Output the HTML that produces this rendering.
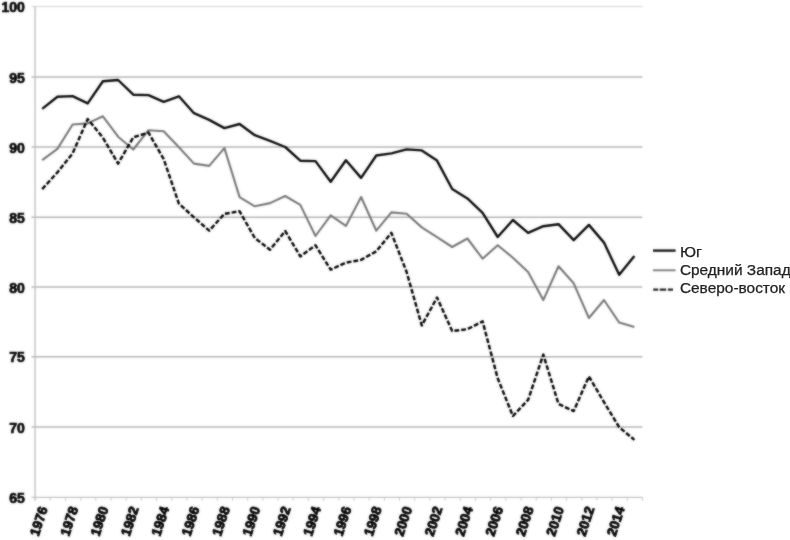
<!DOCTYPE html>
<html lang="ru">
<head>
<meta charset="utf-8">
<title>Chart</title>
<style>
html,body{margin:0;padding:0;background:#fff;}
body{width:790px;height:540px;overflow:hidden;position:relative;font-family:"Liberation Sans",sans-serif;}
#chart{position:absolute;left:0;top:0;width:790px;height:540px;will-change:transform;}
#chart text{font-family:"Liberation Sans",sans-serif;font-weight:bold;font-size:14px;fill:#000;stroke:#000;stroke-width:0.7px;}
#chart #xlabels text{font-size:13.5px;stroke-width:0.85px;}
#legend{position:absolute;left:0;top:0;width:790px;height:540px;will-change:transform;opacity:0.999;}
#legend text{font-family:"Liberation Sans",sans-serif;font-size:14px;fill:#222;stroke:#222;stroke-width:0.25px;}
</style>
</head>
<body>
<svg id="chart" width="790" height="540" viewBox="0 0 790 540">
<defs>
<filter id="soft" filterUnits="userSpaceOnUse" x="0" y="0" width="790" height="540" color-interpolation-filters="sRGB">
<feGaussianBlur in="SourceGraphic" stdDeviation="0.9" result="b"/>
<feComposite in="SourceGraphic" in2="b" operator="arithmetic" k1="0" k2="0.45" k3="0.55" k4="0"/>
</filter>
</defs>
<g filter="url(#soft)">
<g id="grid">
<line x1="31.5" y1="6.6" x2="642.3" y2="6.6" stroke="#dedede" stroke-width="1.5"/>
<line x1="31.5" y1="77.1" x2="642.3" y2="77.1" stroke="#b4b4b4" stroke-width="1.5"/>
<line x1="31.5" y1="147.1" x2="642.3" y2="147.1" stroke="#b4b4b4" stroke-width="1.5"/>
<line x1="31.5" y1="217.3" x2="642.3" y2="217.3" stroke="#b4b4b4" stroke-width="1.5"/>
<line x1="31.5" y1="287.0" x2="642.3" y2="287.0" stroke="#b4b4b4" stroke-width="1.5"/>
<line x1="31.5" y1="356.7" x2="642.3" y2="356.7" stroke="#b4b4b4" stroke-width="1.5"/>
<line x1="31.5" y1="427.0" x2="642.3" y2="427.0" stroke="#b4b4b4" stroke-width="1.5"/>
<line x1="31.5" y1="497.3" x2="642.3" y2="497.3" stroke="#c2c2c2" stroke-width="1.3"/>
<line x1="35.1" y1="6.0" x2="35.1" y2="500.6" stroke="#c4c4c4" stroke-width="1.5"/>
<line x1="35.1" y1="497.3" x2="35.1" y2="500.6" stroke="#c8c8c8" stroke-width="1.0"/>
<line x1="50.3" y1="497.3" x2="50.3" y2="500.6" stroke="#c8c8c8" stroke-width="1.0"/>
<line x1="65.5" y1="497.3" x2="65.5" y2="500.6" stroke="#c8c8c8" stroke-width="1.0"/>
<line x1="80.7" y1="497.3" x2="80.7" y2="500.6" stroke="#c8c8c8" stroke-width="1.0"/>
<line x1="95.8" y1="497.3" x2="95.8" y2="500.6" stroke="#c8c8c8" stroke-width="1.0"/>
<line x1="111.0" y1="497.3" x2="111.0" y2="500.6" stroke="#c8c8c8" stroke-width="1.0"/>
<line x1="126.2" y1="497.3" x2="126.2" y2="500.6" stroke="#c8c8c8" stroke-width="1.0"/>
<line x1="141.4" y1="497.3" x2="141.4" y2="500.6" stroke="#c8c8c8" stroke-width="1.0"/>
<line x1="156.6" y1="497.3" x2="156.6" y2="500.6" stroke="#c8c8c8" stroke-width="1.0"/>
<line x1="171.8" y1="497.3" x2="171.8" y2="500.6" stroke="#c8c8c8" stroke-width="1.0"/>
<line x1="186.9" y1="497.3" x2="186.9" y2="500.6" stroke="#c8c8c8" stroke-width="1.0"/>
<line x1="202.1" y1="497.3" x2="202.1" y2="500.6" stroke="#c8c8c8" stroke-width="1.0"/>
<line x1="217.3" y1="497.3" x2="217.3" y2="500.6" stroke="#c8c8c8" stroke-width="1.0"/>
<line x1="232.5" y1="497.3" x2="232.5" y2="500.6" stroke="#c8c8c8" stroke-width="1.0"/>
<line x1="247.7" y1="497.3" x2="247.7" y2="500.6" stroke="#c8c8c8" stroke-width="1.0"/>
<line x1="262.9" y1="497.3" x2="262.9" y2="500.6" stroke="#c8c8c8" stroke-width="1.0"/>
<line x1="278.1" y1="497.3" x2="278.1" y2="500.6" stroke="#c8c8c8" stroke-width="1.0"/>
<line x1="293.2" y1="497.3" x2="293.2" y2="500.6" stroke="#c8c8c8" stroke-width="1.0"/>
<line x1="308.4" y1="497.3" x2="308.4" y2="500.6" stroke="#c8c8c8" stroke-width="1.0"/>
<line x1="323.6" y1="497.3" x2="323.6" y2="500.6" stroke="#c8c8c8" stroke-width="1.0"/>
<line x1="338.8" y1="497.3" x2="338.8" y2="500.6" stroke="#c8c8c8" stroke-width="1.0"/>
<line x1="354.0" y1="497.3" x2="354.0" y2="500.6" stroke="#c8c8c8" stroke-width="1.0"/>
<line x1="369.2" y1="497.3" x2="369.2" y2="500.6" stroke="#c8c8c8" stroke-width="1.0"/>
<line x1="384.4" y1="497.3" x2="384.4" y2="500.6" stroke="#c8c8c8" stroke-width="1.0"/>
<line x1="399.5" y1="497.3" x2="399.5" y2="500.6" stroke="#c8c8c8" stroke-width="1.0"/>
<line x1="414.7" y1="497.3" x2="414.7" y2="500.6" stroke="#c8c8c8" stroke-width="1.0"/>
<line x1="429.9" y1="497.3" x2="429.9" y2="500.6" stroke="#c8c8c8" stroke-width="1.0"/>
<line x1="445.1" y1="497.3" x2="445.1" y2="500.6" stroke="#c8c8c8" stroke-width="1.0"/>
<line x1="460.3" y1="497.3" x2="460.3" y2="500.6" stroke="#c8c8c8" stroke-width="1.0"/>
<line x1="475.5" y1="497.3" x2="475.5" y2="500.6" stroke="#c8c8c8" stroke-width="1.0"/>
<line x1="490.6" y1="497.3" x2="490.6" y2="500.6" stroke="#c8c8c8" stroke-width="1.0"/>
<line x1="505.8" y1="497.3" x2="505.8" y2="500.6" stroke="#c8c8c8" stroke-width="1.0"/>
<line x1="521.0" y1="497.3" x2="521.0" y2="500.6" stroke="#c8c8c8" stroke-width="1.0"/>
<line x1="536.2" y1="497.3" x2="536.2" y2="500.6" stroke="#c8c8c8" stroke-width="1.0"/>
<line x1="551.4" y1="497.3" x2="551.4" y2="500.6" stroke="#c8c8c8" stroke-width="1.0"/>
<line x1="566.6" y1="497.3" x2="566.6" y2="500.6" stroke="#c8c8c8" stroke-width="1.0"/>
<line x1="581.8" y1="497.3" x2="581.8" y2="500.6" stroke="#c8c8c8" stroke-width="1.0"/>
<line x1="596.9" y1="497.3" x2="596.9" y2="500.6" stroke="#c8c8c8" stroke-width="1.0"/>
<line x1="612.1" y1="497.3" x2="612.1" y2="500.6" stroke="#c8c8c8" stroke-width="1.0"/>
<line x1="627.3" y1="497.3" x2="627.3" y2="500.6" stroke="#c8c8c8" stroke-width="1.0"/>
<line x1="642.5" y1="497.3" x2="642.5" y2="500.6" stroke="#c8c8c8" stroke-width="1.0"/>
</g>
<g id="ylabels">
<text x="24.9" y="12.2" text-anchor="end">100</text>
<text x="24.9" y="82.7" text-anchor="end">95</text>
<text x="24.9" y="152.7" text-anchor="end">90</text>
<text x="24.9" y="222.9" text-anchor="end">85</text>
<text x="24.9" y="292.6" text-anchor="end">80</text>
<text x="24.9" y="362.3" text-anchor="end">75</text>
<text x="24.9" y="432.6" text-anchor="end">70</text>
<text x="24.9" y="502.9" text-anchor="end">65</text>
</g>
<g id="xlabels">
<text transform="translate(47.8,508.4) rotate(-72)" text-anchor="end" font-size="13.5">1976</text>
<text transform="translate(78.2,508.4) rotate(-72)" text-anchor="end" font-size="13.5">1978</text>
<text transform="translate(108.5,508.4) rotate(-72)" text-anchor="end" font-size="13.5">1980</text>
<text transform="translate(138.9,508.4) rotate(-72)" text-anchor="end" font-size="13.5">1982</text>
<text transform="translate(169.3,508.4) rotate(-72)" text-anchor="end" font-size="13.5">1984</text>
<text transform="translate(199.6,508.4) rotate(-72)" text-anchor="end" font-size="13.5">1986</text>
<text transform="translate(230.0,508.4) rotate(-72)" text-anchor="end" font-size="13.5">1988</text>
<text transform="translate(260.4,508.4) rotate(-72)" text-anchor="end" font-size="13.5">1990</text>
<text transform="translate(290.8,508.4) rotate(-72)" text-anchor="end" font-size="13.5">1992</text>
<text transform="translate(321.1,508.4) rotate(-72)" text-anchor="end" font-size="13.5">1994</text>
<text transform="translate(351.5,508.4) rotate(-72)" text-anchor="end" font-size="13.5">1996</text>
<text transform="translate(381.9,508.4) rotate(-72)" text-anchor="end" font-size="13.5">1998</text>
<text transform="translate(412.2,508.4) rotate(-72)" text-anchor="end" font-size="13.5">2000</text>
<text transform="translate(442.6,508.4) rotate(-72)" text-anchor="end" font-size="13.5">2002</text>
<text transform="translate(473.0,508.4) rotate(-72)" text-anchor="end" font-size="13.5">2004</text>
<text transform="translate(503.3,508.4) rotate(-72)" text-anchor="end" font-size="13.5">2006</text>
<text transform="translate(533.7,508.4) rotate(-72)" text-anchor="end" font-size="13.5">2008</text>
<text transform="translate(564.1,508.4) rotate(-72)" text-anchor="end" font-size="13.5">2010</text>
<text transform="translate(594.5,508.4) rotate(-72)" text-anchor="end" font-size="13.5">2012</text>
<text transform="translate(624.8,508.4) rotate(-72)" text-anchor="end" font-size="13.5">2014</text>
</g>
<polyline fill="none" stroke="#787878" stroke-width="2.1" stroke-linejoin="round" points="42.2,160.1 57.4,148.9 72.6,124.5 87.7,123.4 102.9,116.3 118.1,136.7 133.3,149.5 148.5,130.2 163.7,131.2 178.9,147.3 194.0,163.6 209.2,165.9 224.4,148.1 239.6,197.1 254.8,206.3 270.0,203.1 285.2,196.0 300.3,204.9 315.5,236.0 330.7,215.3 345.9,225.9 361.1,197.0 376.3,230.7 391.4,212.4 406.6,213.7 421.8,227.4 437.0,237.2 452.2,247.0 467.4,238.5 482.6,258.7 497.7,245.2 512.9,257.7 528.1,272.0 543.3,300.1 558.5,266.3 573.7,283.3 588.9,318.0 604.0,300.0 619.2,322.6 634.4,327.1"/>
<polyline fill="none" stroke="#000" stroke-width="2.45" stroke-linejoin="round" stroke-dasharray="4.8 2.0" points="42.2,189.1 57.4,172.4 72.6,153.4 87.7,119.0 102.9,137.7 118.1,163.6 133.3,137.3 148.5,132.6 163.7,159.1 178.9,203.7 194.0,217.3 209.2,230.7 224.4,213.8 239.6,211.3 254.8,238.0 270.0,249.7 285.2,231.0 300.3,256.4 315.5,245.3 330.7,269.7 345.9,262.6 361.1,259.9 376.3,251.3 391.4,232.9 406.6,272.0 421.8,325.5 437.0,297.5 452.2,331.0 467.4,329.2 482.6,321.4 497.7,378.3 512.9,416.0 528.1,399.9 543.3,354.6 558.5,404.0 573.7,411.1 588.9,376.4 604.0,402.2 619.2,427.2 634.4,439.9"/>
<polyline fill="none" stroke="#0a0a0a" stroke-width="2.4" stroke-linejoin="round" points="42.2,108.9 57.4,96.7 72.6,96.1 87.7,103.4 102.9,81.2 118.1,80.0 133.3,94.7 148.5,95.1 163.7,101.8 178.9,96.3 194.0,113.2 209.2,119.9 224.4,128.1 239.6,124.0 254.8,135.2 270.0,140.9 285.2,147.0 300.3,160.7 315.5,161.1 330.7,181.8 345.9,160.2 361.1,177.9 376.3,155.5 391.4,153.4 406.6,149.4 421.8,150.4 437.0,160.6 452.2,189.0 467.4,198.4 482.6,212.8 497.7,237.0 512.9,220.0 528.1,232.9 543.3,226.2 558.5,224.2 573.7,240.2 588.9,224.9 604.0,242.6 619.2,274.8 634.4,255.9"/>
<g id="legendlines">
<line x1="653" y1="250.6" x2="675.6" y2="250.6" stroke="#141414" stroke-width="2.4"/>
<line x1="653" y1="270.3" x2="675.6" y2="270.3" stroke="#7c7c7c" stroke-width="1.9"/>
<line x1="653.2" y1="289.6" x2="673" y2="289.6" stroke="#222" stroke-width="2.4" stroke-dasharray="5 1.5 6.5 1.7 5.1 10"/>
</g>
</g>
</svg>
<svg id="legend" width="790" height="540" viewBox="0 0 790 540">
<text x="679.9" y="256.6" textLength="21.8" lengthAdjust="spacingAndGlyphs">Юг</text>
<text x="679.9" y="274.8" textLength="110.8" lengthAdjust="spacingAndGlyphs">Средний Запад</text>
<text x="679.9" y="292.8" textLength="105.2" lengthAdjust="spacingAndGlyphs">Северо-восток</text>
</svg>
</body>
</html>
